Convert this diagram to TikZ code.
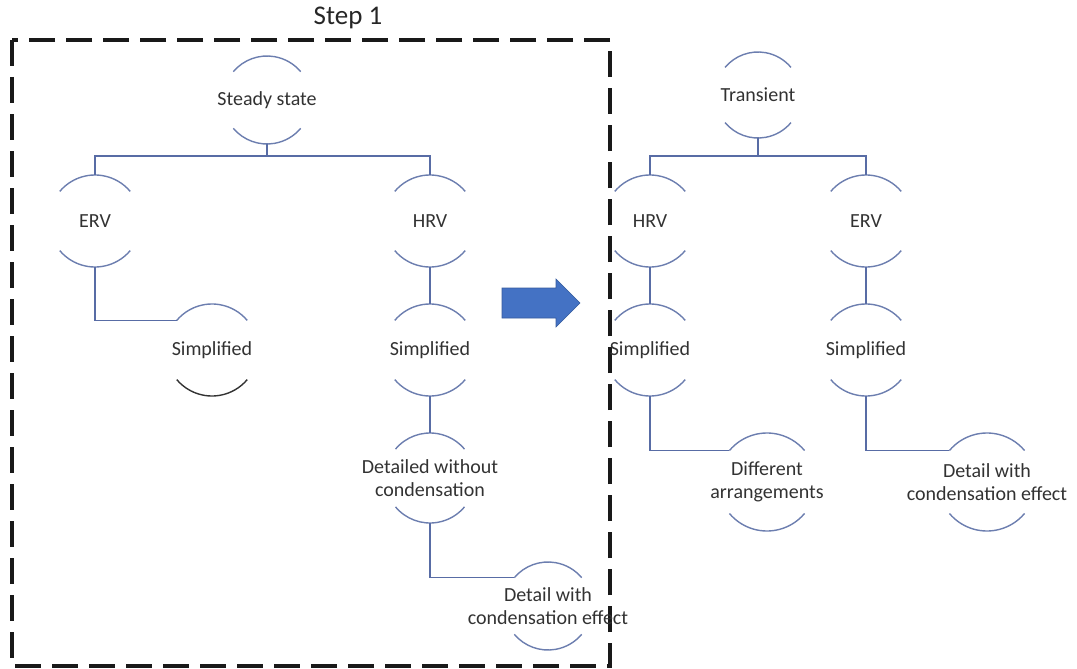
\documentclass[tikz,border=0pt]{standalone}
\usepackage{fontspec}
\setmainfont{Carlito}
\usetikzlibrary{positioning}

\definecolor{linkblue}{RGB}{88,108,165}
\definecolor{ringblue}{RGB}{108,126,175}
\definecolor{arrowblue}{RGB}{68,114,196}
\definecolor{txtgray}{RGB}{50,50,50}

\tikzset{
	ring/.style={circle, minimum size=#1, inner sep=0pt, outer sep=0pt},
	ring/.default=92pt,
	lbl/.style={align=center, text=txtgray, font=\fontsize{20}{23}\selectfont},
	link/.style={draw=linkblue, line width=1.5pt},
	arcline/.style={draw=ringblue, line width=1.4pt},
	stepbox/.style={draw=black!90, line width=3.2pt, dash pattern=on 26pt off 11pt}
}

% top and bottom arcs round a ring node: name, radius
\newcommand{\toparc}[3][arcline]{\draw[#1] (#2.140) arc[start angle=140, end angle=40, radius=#3];}
\newcommand{\botarc}[3][arcline]{\draw[#1] (#2.220) arc[start angle=220, end angle=320, radius=#3];}

\begin{document}
\begin{tikzpicture}[x=1pt, y=1pt]
		\useasboundingbox (0,0) rectangle (1077,-669);
		
		\draw[stepbox] (12,-40) rectangle (610,-666);
		\node[text=black!85, font=\fontsize{27}{30}\selectfont] (step) at (348,-18) {Step 1};
		
		\node[ring=88pt, label={[lbl]center:Steady state}] (ss) at (267,-100) {};
		\node[ring, label={[lbl]center:ERV}] (ervL) at (95,-221) {};
		\node[ring, label={[lbl]center:HRV}] (hrvL) at (430,-221) {};
		\node[ring, label={[lbl]center:Simplified}] (simpE) at (212,-350) {};
		\node[ring, label={[lbl]center:Simplified}] (simpH) at (430,-350) {};
		\node[ring=90pt, label={[lbl]center:Detailed without\\condensation}] (detNo) at (430,-478) {};
		\node[ring=88pt, label={[lbl]center:Detail with\\condensation effect}] (detL) at (548,-606) {};
		
		\node[ring=86pt, label={[lbl]center:Transient}] (tr) at (758,-95) {};
		\node[ring, label={[lbl]center:HRV}] (hrvR) at (650,-221) {};
		\node[ring, label={[lbl]center:ERV}] (ervR) at (866,-221) {};
		\node[ring, label={[lbl]center:Simplified}] (simpHR) at (650,-350) {};
		\node[ring, label={[lbl]center:Simplified}] (simpER) at (866,-350) {};
		\node[ring=98pt, label={[lbl]center:Different\\arrangements}] (diff) at (767,-482) {};
		\node[ring=98pt, label={[lbl]center:Detail with\\condensation effect}] (detR) at (987,-482) {};
		
		\foreach \n/\r in {ss/44, ervL/46, hrvL/46, simpH/46, detNo/45, detL/44,
			tr/43, hrvR/46, ervR/46, simpHR/46, simpER/46, diff/49, detR/49}{
			\toparc{\n}{\r pt}
			\botarc{\n}{\r pt}
		}
		\toparc{simpE}{46pt}
		\botarc[draw=black!80, line width=1.4pt]{simpE}{46pt}
		
		\draw[link] (ss.south) -- ++(0,-12) coordinate (busL);
		\draw[link] (ervL.north) |- (busL) -| (hrvL.north);
		\draw[link] (ervL.south) |- (simpE.140);
		\draw[link] (hrvL.south) -- (simpH.north);
		\draw[link] (simpH.south) -- (detNo.north);
		\draw[link] (detNo.south) |- (detL.140);
		
		\draw[link] (tr.south) -- ++(0,-18) coordinate (busR);
		\draw[link] (hrvR.north) |- (busR) -| (ervR.north);
		\draw[link] (hrvR.south) -- (simpHR.north);
		\draw[link] (ervR.south) -- (simpER.north);
		\draw[link] (simpHR.south) |- (diff.140);
		\draw[link] (simpER.south) |- (detR.140);
		
		\filldraw[fill=arrowblue, draw=arrowblue!80!black, line width=0.6pt]
			(502,-288) -- (556,-288) -- (556,-279) -- (580,-303)
			-- (556,-327) -- (556,-318) -- (502,-318) -- cycle;
	\end{tikzpicture}
\end{document}
